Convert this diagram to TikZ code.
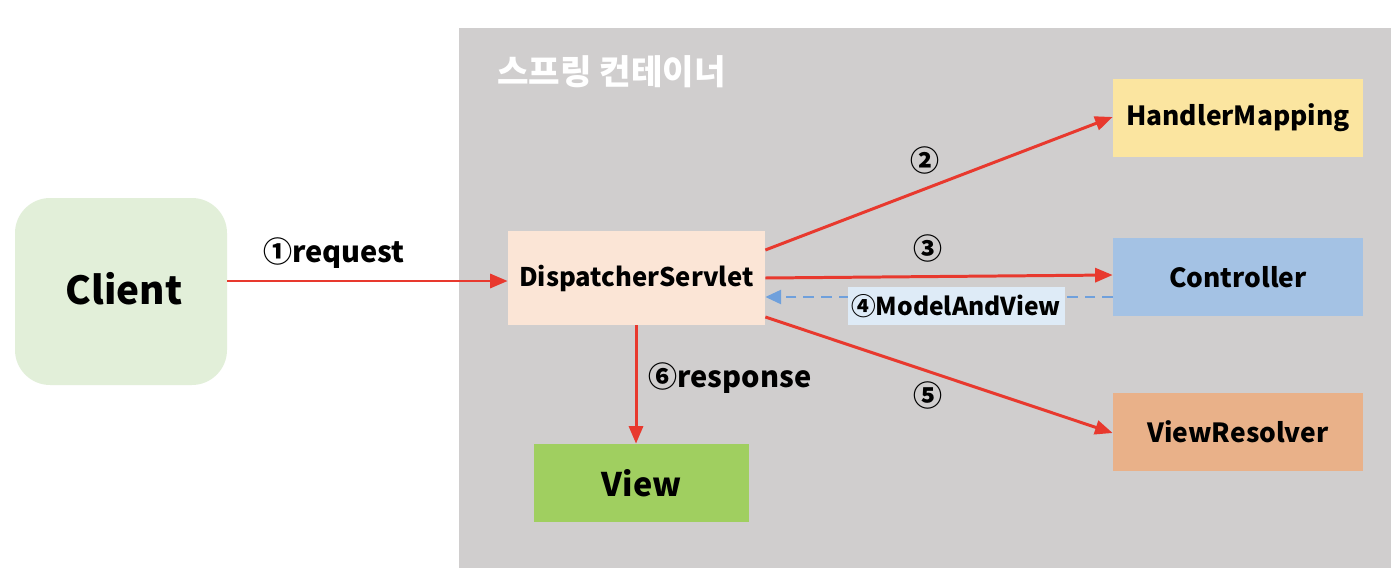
\documentclass[tikz,border=0pt]{standalone}
\usepackage{fontspec}
\setmainfont{Noto Sans CJK KR}
\usetikzlibrary{arrows.meta}
\definecolor{contgray}{HTML}{D0CECE}
\definecolor{clientfill}{HTML}{E2EFD9}
\definecolor{dsfill}{HTML}{FBE5D6}
\definecolor{hmfill}{HTML}{FBE5A0}
\definecolor{ctrlfill}{HTML}{A4C2E4}
\definecolor{vrfill}{HTML}{E9B189}
\definecolor{viewfill}{HTML}{A0CF60}
\definecolor{arrred}{HTML}{E8392E}
\definecolor{arrblue}{HTML}{6FA0DC}
\definecolor{mavfill}{HTML}{DEEBF7}
\tikzset{
  px/.style={x=0.02cm,y=-0.02cm},
  box/.style={rectangle,inner sep=0pt,font=\bfseries\fontsize{15}{18}\selectfont,text=black},
  redarrow/.style={draw=arrred,line width=1.7pt,-{Triangle[length=10pt,width=8pt]}},
  bluearrow/.style={draw=arrblue,line width=1.4pt,dashed,dash pattern=on 6pt off 4pt,-{Triangle[length=9pt,width=8pt]}},
  lbl/.style={font=\bfseries\fontsize{16.5}{19}\selectfont,text=black,inner sep=1pt},
}
\begin{document}
\begin{tikzpicture}[px]
\useasboundingbox (0,0) rectangle (1398,584);
\fill[white] (0,0) rectangle (1398,584);
\fill[contgray] (459,28) rectangle (1391,568);
\node[font=\bfseries\fontsize{19.5}{23}\selectfont,text=white,anchor=west,inner sep=0pt] (title) at (497,72) {스프링 컨테이너};

\node[box,fill=clientfill,rounded corners=20pt,minimum width=212*0.02cm,minimum height=187*0.02cm,font=\bfseries\fontsize{22}{26}\selectfont] (client) at (121,291.5) {\raisebox{3pt}{\,Client}};
\node[box,fill=dsfill,minimum width=257*0.02cm,minimum height=94*0.02cm,font=\bfseries\fontsize{14.6}{17}\selectfont] (ds) at (636.5,278) {\raisebox{2pt}{DispatcherServlet}};
\node[box,fill=hmfill,minimum width=250*0.02cm,minimum height=78*0.02cm] (hm) at (1238,118) {HandlerMapping};
\node[box,fill=ctrlfill,minimum width=250*0.02cm,minimum height=78*0.02cm] (ctrl) at (1238,277) {Controller};
\node[box,fill=vrfill,minimum width=250*0.02cm,minimum height=78*0.02cm] (vr) at (1238,432) {ViewResolver};
\node[box,fill=viewfill,minimum width=215*0.02cm,minimum height=78*0.02cm,font=\bfseries\fontsize{18.5}{22}\selectfont] (view) at (641.5,483) {View\hspace{6pt}};

% 1 request
\draw[redarrow] (client.east |- 0,281) -- (ds.west |- 0,281);
\node[lbl] (l1) at (334,253) {①request};
% 2
\draw[redarrow] (ds.east |- 0,250) -- (hm.west |- 0,117);
\node[lbl] (l2) at (925,160) {②};
% 3
\draw[redarrow] (ds.east |- 0,278) -- (ctrl.west |- 0,275);
\node[lbl] (l3) at (928,248) {③};
% 4
\draw[bluearrow] (ctrl.west |- 0,297) -- (ds.east |- 0,297);
\node[lbl,fill=mavfill,minimum width=217*0.02cm,minimum height=38*0.02cm,inner sep=0pt,font=\bfseries\fontsize{14}{17}\selectfont] (l4) at (956,306) {④ModelAndView};
% 5
\draw[redarrow] (ds.east |- 0,317) -- (vr.west |- 0,433);
\node[lbl] (l5) at (928,395) {⑤};
% 6
\draw[redarrow] (ds.south -| 636,0) -- (view.north -| 636,0);
\node[lbl] (l6) at (730,378) {⑥response};
\end{tikzpicture}
\end{document}
